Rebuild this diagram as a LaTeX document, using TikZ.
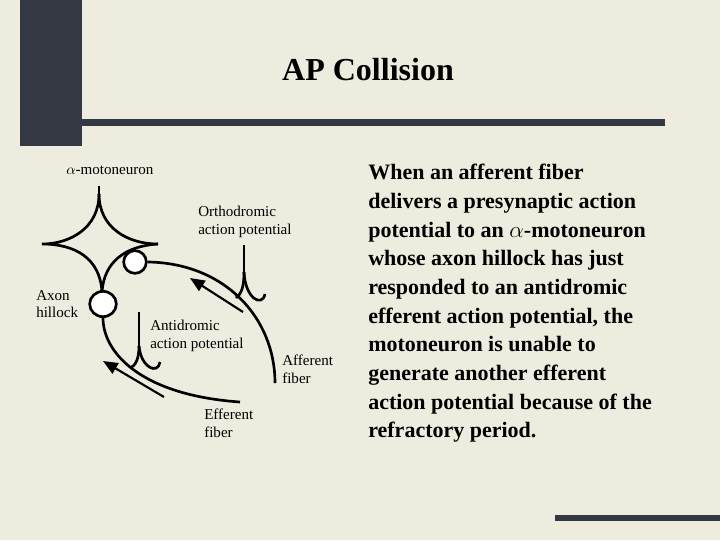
\documentclass[tikz,border=0pt]{standalone}
\usepackage{fontspec}
\setmainfont{Liberation Serif}
\usetikzlibrary{arrows.meta,shapes.geometric}
\definecolor{bg}{RGB}{238,236,222}
\definecolor{bar}{RGB}{52,56,66}
\begin{document}
\begin{tikzpicture}[x=0.75pt,y=-0.75pt,
  lbl/.style={font=\fontsize{11.3}{13}\selectfont,align=left,anchor=north west,inner sep=0pt},
  body/.style={font=\bfseries\fontsize{16.5}{21.5}\selectfont,align=left,anchor=north west,inner sep=0pt},
  fib/.style={line width=2pt,black},
  arr/.style={line width=1.6pt,-{Triangle[length=11pt,width=9pt]}}]
\fill[bg] (0,0) rectangle (720,540);
\useasboundingbox (0,0) rectangle (720,540);
\fill[bar] (20,0) rectangle (82,146);
\fill[bar] (20,119) rectangle (665,126);
\fill[bar] (555,515) rectangle (720,521);
\node[font=\bfseries\fontsize{24}{28}\selectfont] (title) at (368,70) {AP Collision};
% neuron star
\coordinate (top) at (99,186);
\coordinate (lft) at (42,244);
\coordinate (rgt) at (158,244);
\coordinate (bot) at (102,292);
\draw[fib] (top) -- (99,194);
\draw[fib] (99,194) .. controls (99,228) and (70,244) .. (lft) (lft) .. controls (75,244) and (100,258) .. (bot);
\draw[fib] (99,194) .. controls (99,228) and (128,244) .. (rgt);
\draw[fib] (bot) .. controls (104,262) and (125,246) .. (rgt);
% synapse and hillock
\node[circle,draw,fill=white,line width=2pt,minimum size=17pt,inner sep=0pt] (syn) at (135,262) {};
\node[ellipse,draw,fill=white,line width=2pt,minimum width=20pt,minimum height=19pt,inner sep=0pt] (hill) at (103,304) {};
% fibers
\coordinate (affend) at (275,383);
\coordinate (effend) at (240,402);
\draw[fib] (syn.east) .. controls (225,263) and (275,318) .. (affend);
\draw[fib] (hill.south) .. controls (103,352) and (140,395) .. (effend);
% orthodromic spike
\coordinate (os) at (244,245);
\coordinate (oc) at (244,272);
\draw[fib] (os) -- (oc);
\draw[fib] (oc) .. controls (244,288) and (241,294) .. (236,298);
\draw[fib] (oc) .. controls (245,298) and (262,308) .. (265,294);
\coordinate (oa1) at (243,312);
\coordinate (oa2) at (190,278);
\draw[arr] (oa1) -- (oa2);
% antidromic spike
\coordinate (as) at (139,312);
\coordinate (ac) at (139,346);
\draw[fib] (as) -- (ac);
\draw[fib] (ac) .. controls (139,360) and (135,366) .. (130,368);
\draw[fib] (ac) .. controls (141,368) and (158,375) .. (160,362);
\coordinate (aa1) at (164,397);
\coordinate (aa2) at (103,361);
\draw[arr] (aa1) -- (aa2);
% labels
\node[lbl] (l1) at (66,166) {$\alpha$-motoneuron};
\node[lbl] (l2) at (198,206) {Orthodromic\\action potential};
\node[lbl] (l3) at (36,290) {Axon\\hillock};
\node[lbl] (l4) at (150,320) {Antidromic\\action potential};
\node[lbl] (l5) at (282,355) {Afferent\\fiber};
\node[lbl] (l6) at (204,409) {Efferent\\fiber};
\node[body] (txt) at (368,164) {When an afferent fiber\\delivers a presynaptic action\\potential to an $\alpha$-motoneuron\\whose axon hillock has just\\responded to an antidromic\\efferent action potential, the\\motoneuron is unable to\\generate another efferent\\action potential because of the\\refractory period.};
\end{tikzpicture}
\end{document}
